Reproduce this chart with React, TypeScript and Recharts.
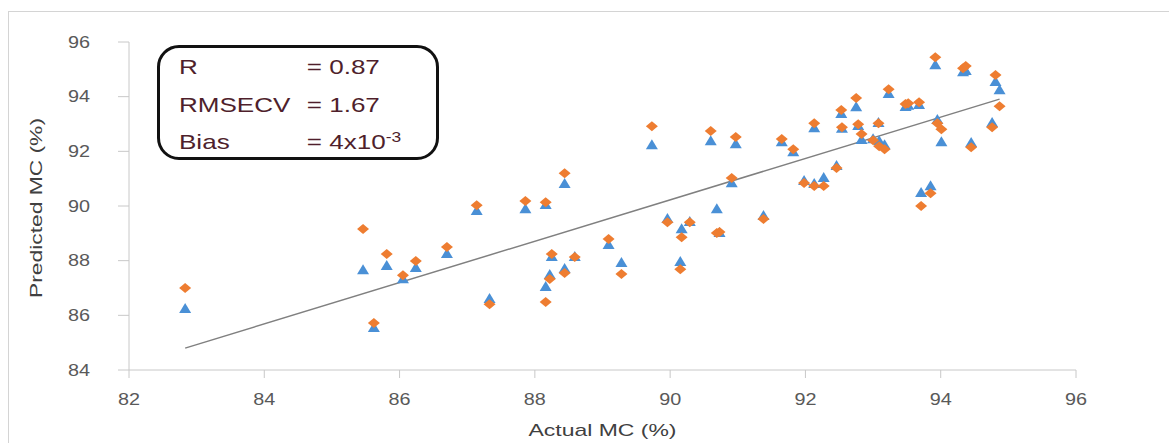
import React from 'react';
import { ScatterChart, Scatter, XAxis, YAxis, ReferenceLine } from 'recharts';

// Actual moisture content (%) per sample
const actualMC = [
  82.83, 85.46, 85.62, 85.81, 86.05, 86.24, 86.7, 87.14, 87.33, 87.86,
  88.16, 88.16, 88.22, 88.25, 88.44, 88.44, 88.59, 89.09, 89.28, 89.73,
  89.96, 90.15, 90.17, 90.29, 90.6, 90.69, 90.73, 90.91, 90.97, 91.38,
  91.65, 91.82, 91.98, 92.13, 92.13, 92.27, 92.46, 92.53, 92.54, 92.75,
  92.78, 92.83, 93.0, 93.08, 93.09, 93.17, 93.23, 93.48, 93.52, 93.68,
  93.71, 93.85, 93.92, 93.95, 94.01, 94.33, 94.37, 94.45, 94.76, 94.81,
  94.87,
];
// Predicted MC (%) – triangle series
const predTriangle = [
  86.27, 87.69, 85.57, 87.84, 87.36, 87.77, 88.28, 89.85, 86.63, 89.92,
  90.07, 87.07, 87.51, 88.17, 87.73, 90.84, 88.17, 88.61, 87.95, 92.26,
  89.56, 87.99, 89.19, 89.45, 92.41, 89.92, 89.05, 90.87, 92.3, 89.67,
  92.37, 92.0, 90.95, 92.88, 90.84, 91.06, 91.5, 93.4, 92.86, 93.65,
  92.96, 92.45, 92.48, 93.07, 92.41, 92.26, 94.13, 93.66, 93.7, 93.73,
  90.51, 90.76, 95.19, 93.18, 92.37, 94.93, 94.98, 92.34, 93.07, 94.57,
  94.27,
];
// Predicted MC (%) – diamond series
const predDiamond = [
  87.0, 89.16, 85.72, 88.24, 87.47, 87.99, 88.5, 90.03, 86.41, 90.18,
  90.14, 86.49, 87.33, 88.24, 87.55, 91.2, 88.13, 88.79, 87.51, 92.92,
  89.41, 87.69, 88.86, 89.41, 92.74, 89.01, 89.05, 91.02, 92.52, 89.52,
  92.45, 92.08, 90.84, 93.03, 90.73, 90.73, 91.39, 93.51, 92.88, 93.95,
  92.99, 92.63, 92.41, 93.03, 92.19, 92.08, 94.27, 93.73, 93.76, 93.8,
  90.0, 90.47, 95.44, 93.03, 92.81, 95.04, 95.12, 92.15, 92.88, 94.79,
  93.65,
];
// Regression line end points
const trendX = [82.83, 94.87];
const trendY = [84.8, 93.91];

const xTicks = [82, 84, 86, 88, 90, 92, 94, 96];
const yTicks = [84, 86, 88, 90, 92, 94, 96];

const triData = actualMC.map((x, i) => ({ x, y: predTriangle[i] }));
const diaData = actualMC.map((x, i) => ({ x, y: predDiamond[i] }));

const BLUE = '#4A90D6';
const ORANGE = '#EE7D31';
const AXIS = '#c8c8c8';
const FONT = "'Liberation Sans', Arial, sans-serif";

const Triangle = (props: any) => {
  const { cx, cy } = props;
  if (cx == null || cy == null) return null;
  const w = 6, h = 5;
  return <path d={`M${cx},${cy - h} L${cx + w},${cy + h} L${cx - w},${cy + h} Z`} fill={BLUE} />;
};

const Diamond = (props: any) => {
  const { cx, cy } = props;
  if (cx == null || cy == null) return null;
  const w = 6, h = 5;
  return <path d={`M${cx},${cy - h} L${cx + w},${cy} L${cx},${cy + h} L${cx - w},${cy} Z`} fill={ORANGE} />;
};

const XTick = (props: any) => {
  const { x, y, payload } = props;
  return (
    <text x={x} y={y} dy="0.71em" textAnchor="middle" fill="#595959" fontSize={16} fontFamily={FONT} textLength={22} lengthAdjust="spacingAndGlyphs">
      {payload.value}
    </text>
  );
};

const YTick = (props: any) => {
  const { x, y, payload } = props;
  return (
    <text x={x - 11} y={y} dy="0.355em" textAnchor="middle" fill="#595959" fontSize={16} fontFamily={FONT} textLength={22} lengthAdjust="spacingAndGlyphs">
      {payload.value}
    </text>
  );
};

export default function App() {
  return (
    <div style={{ position: 'absolute', left: 0, top: 0, width: 1169, height: 443, background: '#fff', overflow: 'hidden' }}>
      <div style={{ position: 'absolute', left: 8, top: 11, width: 1200, height: 500, borderTop: '1px solid #d4d4d4', borderLeft: '1px solid #d4d4d4' }} />
      <ScatterChart width={1169} height={443} margin={{ top: 42, right: 93, bottom: 5, left: 8 }} style={{ position: 'absolute', left: 0, top: 0 }}>
        <XAxis
          type="number"
          dataKey="x"
          domain={[82, 96]}
          ticks={xTicks}
          allowDataOverflow
          height={68}
          tickSize={8}
          tickMargin={16}
          stroke={AXIS}
          tick={<XTick />}
          tickLine={{ stroke: AXIS }}
          label={{
            content: (p: any) => {
              const vb = p.viewBox;
              return (
                <text x={vb.x + vb.width / 2} y={vb.y + 66} textAnchor="middle" fill="#404040" fontSize={17} fontFamily={FONT} textLength={148} lengthAdjust="spacingAndGlyphs">
                  Actual MC (%)
                </text>
              );
            },
          }}
        />
        <YAxis
          type="number"
          dataKey="y"
          domain={[84, 96]}
          ticks={yTicks}
          allowDataOverflow
          width={121}
          tickSize={11}
          tickMargin={28}
          stroke={AXIS}
          tick={<YTick />}
          tickLine={{ stroke: AXIS }}
          label={{
            content: (p: any) => {
              const vb = p.viewBox;
              const cx = 36;
              const cy = vb.y + vb.height / 2 + 2;
              return (
                <text x={cx} y={cy} transform={`rotate(-90 ${cx} ${cy})`} textAnchor="middle" dominantBaseline="central" fill="#404040" fontSize={17} fontFamily={FONT} textLength={180} lengthAdjust="spacingAndGlyphs">
                  Predicted MC (%)
                </text>
              );
            },
          }}
        />
        <ReferenceLine
          segment={[{ x: trendX[0], y: trendY[0] }, { x: trendX[1], y: trendY[1] }]}
          stroke="#808080"
          strokeWidth={1.5}
          ifOverflow="visible"
        />
        <Scatter data={triData} shape={Triangle} isAnimationActive={false} />
        <Scatter data={diaData} shape={Diamond} isAnimationActive={false} />
      </ScatterChart>
      <div
        style={{
          position: 'absolute',
          left: 157,
          top: 45,
          width: 276,
          height: 109,
          border: '3px solid #111',
          borderRadius: 22,
          background: '#fff',
          fontFamily: FONT,
          fontSize: 21,
          color: '#4f1f2c',
        }}
      >
        {[
          ['R', '= 0.87', null],
          ['RMSECV', '= 1.67', null],
          ['Bias', '= 4x10', '-3'],
        ].map((row, i) => (
          <div key={i} style={{ position: 'absolute', left: 19, top: 6 + i * 37.5, width: 200, height: 26, lineHeight: '26px', transform: 'scaleX(1.24)', transformOrigin: '0 0' }}>
            <span style={{ position: 'absolute', left: 0 }}>{row[0]}</span>
            <span style={{ position: 'absolute', left: 103, whiteSpace: 'nowrap' }}>
              {row[1]}
              {row[2] ? <sup style={{ fontSize: 14, verticalAlign: 'top', position: 'relative', top: -5 }}>{row[2]}</sup> : null}
            </span>
          </div>
        ))}
      </div>
    </div>
  );
}
